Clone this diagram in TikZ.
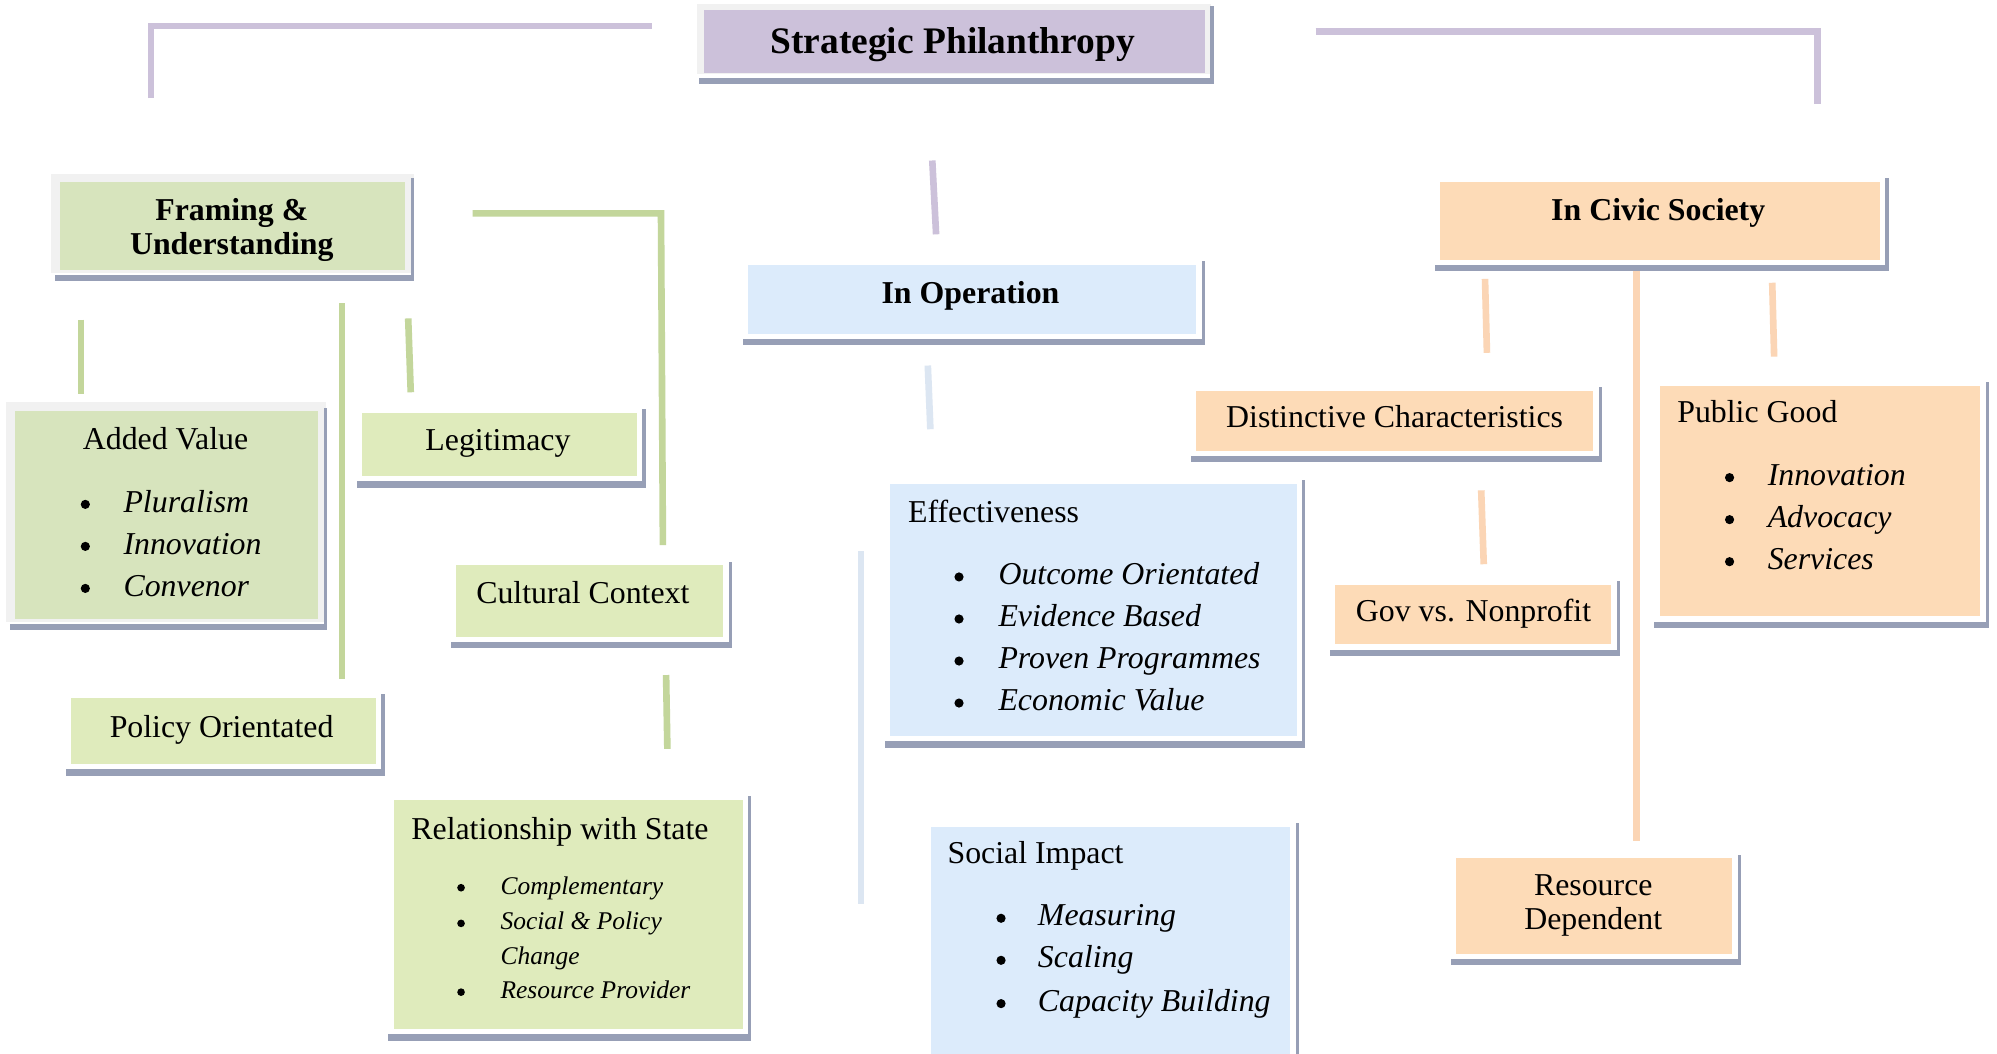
\documentclass[tikz,border=0pt]{standalone}
\usepackage{fontspec}
\setmainfont{Liberation Serif}
\usetikzlibrary{fit}

\definecolor{purpfill}{HTML}{CCC1DA}
\definecolor{purpline}{HTML}{CCC1DA}
\definecolor{greenA}{HTML}{D7E4BD}
\definecolor{greenB}{HTML}{DFEBBC}
\definecolor{greenline}{HTML}{C3D69B}
\definecolor{bluefill}{HTML}{DCEBFB}
\definecolor{blueline}{HTML}{DCE6F2}
\definecolor{orangefill}{HTML}{FDDBB7}
\definecolor{orangeline}{HTML}{FBD5B5}
\definecolor{shadowc}{HTML}{979FB6}
\definecolor{framec}{HTML}{F1F1F1}

% one bulleted entry: name, bullet x, text x, baseline y, text
\newcommand\pitem[5]{%
  \node[dot] (#1b) at (#2,#4-\dotraise) {};
  \node[lbl,anchor=base west] (#1) at (#3,#4) {\itshape #5};
}
\newcommand\dotraise{6}

\begin{document}
\begin{tikzpicture}[x=0.5pt,y=-0.5pt,
  box/.style={inner sep=0pt, outer sep=0pt, draw=none, fill=#1},
  lbl/.style={inner sep=0pt, outer sep=0pt, font=\fontsize{12.5}{15}\selectfont},
  ttl/.style={lbl, font=\fontsize{12.5}{15}\selectfont\bfseries},
  dot/.style={circle, fill=black, inner sep=0pt, minimum size=3.6pt},
  conn/.style={line width=2.6pt, draw=#1, line cap=butt, line join=miter}
]
\useasboundingbox (0,0) rectangle (1568,827);
\fill[white] (0,0) rectangle (1568,827);

% ---------- connector bars ----------
\coordinate (pA1) at (118.5,77);  \coordinate (pA2) at (118.5,20.5); \coordinate (pA3) at (512,20.5);
\coordinate (pB1) at (1033,24.5); \coordinate (pB2) at (1427,24.5);  \coordinate (pB3) at (1427,82);
\coordinate (pC1) at (732,126);   \coordinate (pC2) at (735,184);
\draw[conn=purpline] (pA1) -- (pA2) -- (pA3);
\draw[conn=purpline] (pB1) -- (pB2) -- (pB3);
\draw[conn=purpline] (pC1) -- (pC2);

\coordinate (g1a) at (63.5,251);  \coordinate (g1b) at (63.5,309);
\coordinate (g2a) at (268.5,238); \coordinate (g2b) at (268.5,533);
\coordinate (g3a) at (320.5,250); \coordinate (g3b) at (322.5,308);
\coordinate (g4a) at (371,167.5); \coordinate (g4b) at (519,167.5); \coordinate (g4c) at (520.5,428);
\coordinate (g5a) at (523,530);   \coordinate (g5b) at (524,588);
\draw[conn=greenline] (g1a) -- (g1b);
\draw[conn=greenline] (g2a) -- (g2b);
\draw[conn=greenline] (g3a) -- (g3b);
\draw[conn=greenline] (g4a) -- (g4b) -- (g4c);
\draw[conn=greenline] (g5a) -- (g5b);

\coordinate (b1a) at (728.5,287); \coordinate (b1b) at (730.5,337);
\coordinate (b2a) at (676,433);   \coordinate (b2b) at (676,710);
\draw[conn=blueline] (b1a) -- (b1b);
\draw[conn=blueline] (b2a) -- (b2b);

\coordinate (o1a) at (1166,219);   \coordinate (o1b) at (1167.5,277);
\coordinate (o2a) at (1391.5,222); \coordinate (o2b) at (1393,280);
\coordinate (o3a) at (1285,210);   \coordinate (o3b) at (1285,660);
\coordinate (o4a) at (1163,385);   \coordinate (o4b) at (1165,443);
\draw[conn=orangeline] (o1a) -- (o1b);
\draw[conn=orangeline] (o2a) -- (o2b);
\draw[conn=orangeline] (o3a) -- (o3b);
\draw[conn=orangeline] (o4a) -- (o4b);

% ---------- light frames behind the top-level green/purple boxes ----------
\fill[framec] (547,3) rectangle (951,58);
\fill[framec] (40,137) rectangle (325,214);
\fill[framec] (5,316) rectangle (256,488);

% ---------- boxes ----------
\node[box=purpfill,   fit={(553,8) (946,57)}]     (sp) {};
\node[box=greenA,     fit={(47,143) (318,212)}]   (framing) {};
\node[box=bluefill,   fit={(587,208) (939,262)}]  (inop) {};
\node[box=orangefill, fit={(1131,143) (1476,204)}] (civic) {};
\node[box=greenA,     fit={(12,323) (250,486)}]   (addval) {};
\node[box=greenB,     fit={(284,324) (500,374)}]  (legit) {};
\node[box=greenB,     fit={(358,444) (568,500)}]  (cultural) {};
\node[box=greenB,     fit={(56,548) (295,600)}]   (policy) {};
\node[box=greenB,     fit={(309,628) (583,808)}]  (relstate) {};
\node[box=bluefill,   fit={(699,380) (1018,578)}] (effect) {};
\node[box=bluefill,   fit={(731,649) (1013,840)}] (social) {};
\node[box=orangefill, fit={(939,307) (1251,354)}] (distinct) {};
\node[box=orangefill, fit={(1048,459) (1265,506)}] (gov) {};
\node[box=orangefill, fit={(1303,303) (1555,484)}] (public) {};
\node[box=orangefill, fit={(1143,674) (1360,749)}] (resdep) {};

% ---------- drop shadows: bar under each box and thin rule on its right ----------
\foreach \n in {sp,framing,inop,civic,addval,legit,cultural,policy,relstate,effect,social,distinct,gov,public,resdep}{
  \fill[shadowc] ([xshift=-2pt,yshift=-2pt]\n.south west) rectangle ([xshift=3.5pt,yshift=-4.5pt]\n.south east);
  \fill[shadowc] ([xshift=2.2pt,yshift=1.5pt]\n.north east) rectangle ([xshift=3.5pt,yshift=-4.5pt]\n.south east);
}

% ---------- titles ----------
\node[lbl,anchor=base,font=\fontsize{14.7}{17}\selectfont\bfseries] (tsp) at (748,42) {Strategic Philanthropy};
\node[ttl,anchor=base] (tframing1) at (182,173) {Framing \&};
\node[ttl,anchor=base] (tframing2) at (182,200) {Understanding};
\node[ttl,anchor=base] (tinop) at (762,238) {In Operation};
\node[ttl,anchor=base] (tcivic) at (1302,173) {In Civic Society};

% ---------- green branch ----------
\node[lbl,anchor=base] (taddval) at (130,353) {Added Value};
\pitem{av1}{67}{97}{402}{Pluralism}
\pitem{av2}{67}{97}{435}{Innovation}
\pitem{av3}{67}{97}{468}{Convenor}
\node[lbl,anchor=base] (tlegit) at (391,354) {Legitimacy};
\node[lbl,anchor=base west] (tcult) at (374,474) {Cultural Context};
\node[lbl,anchor=base] (tpolicy) at (174,579) {Policy Orientated};
\node[lbl,anchor=base west] (trel) at (323,659) {Relationship with State};
\begin{scope}[lbl/.append style={font=\fontsize{10}{12}\selectfont},
              dot/.append style={minimum size=3pt}]
  \renewcommand\dotraise{5}
  \pitem{rs1}{362}{393}{702}{Complementary}
  \pitem{rs2}{362}{393}{730}{Social \& Policy}
  \node[lbl,anchor=base west] (rs2c) at (393,757) {\itshape Change};
  \pitem{rs3}{362}{393}{784}{Resource Provider}
\end{scope}

% ---------- blue branch ----------
\node[lbl,anchor=base west] (teff) at (713,410) {Effectiveness};
\pitem{ef1}{753}{784}{459}{Outcome Orientated}
\pitem{ef2}{753}{784}{492}{Evidence Based}
\pitem{ef3}{753}{784}{525}{Proven Programmes}
\pitem{ef4}{753}{784}{558}{Economic Value}
\node[lbl,anchor=base west] (tsoc) at (744,678) {Social Impact};
\pitem{si1}{786}{815}{727}{Measuring}
\pitem{si2}{786}{815}{760}{Scaling}
\pitem{si3}{786}{815}{794}{Capacity Building}

% ---------- orange branch ----------
\node[lbl,anchor=base] (tdist) at (1095,336) {Distinctive Characteristics};
\node[lbl,anchor=base] (tgov) at (1157,488) {Gov vs. Nonprofit};
\node[lbl,anchor=base west] (tpub) at (1317,332) {Public Good};
\pitem{pg1}{1358}{1388}{381}{Innovation}
\pitem{pg2}{1358}{1388}{414}{Advocacy}
\pitem{pg3}{1358}{1388}{447}{Services}
\node[lbl,anchor=base] (tres1) at (1251,703) {Resource};
\node[lbl,anchor=base] (tres2) at (1251,730) {Dependent};
\end{tikzpicture}
\end{document}
